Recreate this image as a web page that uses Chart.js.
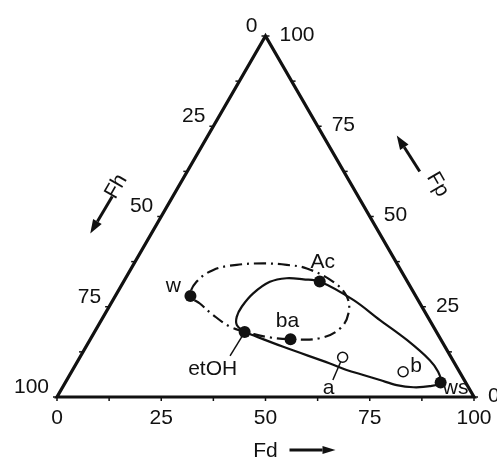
<!DOCTYPE html>
<html><head><meta charset="utf-8">
<script src="https://cdn.jsdelivr.net/npm/chart.js@4/dist/chart.umd.min.js"></script>
<style>html,body{margin:0;padding:0;background:#fff}canvas{display:block}</style>
</head><body>
<canvas id="c" width="497" height="461"></canvas>
<script>
// ---- data (ternary: Fd, Fp; Fh = 100 - Fd - Fp) ----
const tickValues = [0, 25, 50, 75, 100];
const minorTicks = [12.5, 37.5, 62.5, 87.5];
const solventNames = ["w", "Ac", "ba", "etOH", "ws"];
const solventFd = [18, 47, 48, 36, 90];
const solventFp = [28, 32, 16, 18, 4];
const sampleNames = ["a", "b"];
const sampleFd = [63, 79.5];
const sampleFp = [11, 7];
const solidFd = [36, 33.2, 32.0, 31.8, 32.7, 35.1, 38.6, 42.8, 47, 57.6, 66.8, 76.0, 84.3, 87.9, 90, 87.9, 84.1, 79.8, 75.1, 70.4, 65.7, 60.8, 47.3, 36];
const solidFp = [18, 19.9, 22.2, 25.0, 28.7, 31.9, 32.9, 32.6, 32, 26.9, 21.3, 15.8, 10.2, 7.0, 4, 3.0, 2.7, 3.3, 4.7, 6.1, 7.5, 9.3, 13.9, 18];
const dashFd = [36, 31.7, 26.1, 21.3, 18, 17.5, 19.9, 24.8, 31.0, 36.8, 42.1, 50.3, 55.6, 58.3, 58.4, 54.9, 48, 42.8, 36];
const dashFp = [18, 19.5, 22.7, 25.9, 28, 31.9, 35.2, 36.6, 37.0, 36.6, 35.6, 31.9, 27.8, 23.2, 19.0, 16.3, 16, 16.5, 18];
const leaderEtohFd = [36, 35.8];
const leaderEtohFp = [18, 11.4];
const leaderAFd = [63, 63.8];
const leaderAFp = [11, 4.7];

const S3 = Math.sqrt(3) / 2;
function toXY(fd, fp) { return { x: fd + fp / 2, y: fp * S3 }; }
function series(fdArr, fpArr) { return fdArr.map((d, i) => toXY(d, fpArr[i])); }

// label offsets in px (style, not data)
const labelOffsets = {
  w: [-17, -10], Ac: [3, -19], ba: [-3, -18], etOH: [-32, 37], ws: [15, 6],
  a: [-14, 31], b: [13, -6]
};

const FONT = '21px "Liberation Sans", Arial, sans-serif';
const INK = '#111';

function arrow(ctx, x1, y1, x2, y2, len, hw) {
  const ang = Math.atan2(y2 - y1, x2 - x1);
  const bx = x2 - len * Math.cos(ang), by = y2 - len * Math.sin(ang);
  ctx.beginPath(); ctx.moveTo(x1, y1); ctx.lineTo(bx, by); ctx.stroke();
  ctx.beginPath();
  ctx.moveTo(x2, y2);
  ctx.lineTo(bx + hw * Math.sin(ang), by - hw * Math.cos(ang));
  ctx.lineTo(bx - hw * Math.sin(ang), by + hw * Math.cos(ang));
  ctx.closePath(); ctx.fill();
}

const ternaryPlugin = {
  id: 'ternary',
  beforeDatasetsDraw(chart) {
    const ctx = chart.ctx, xs = chart.scales.x, ys = chart.scales.y;
    const P = (fd, fp) => { const q = toXY(fd, fp); return { x: xs.getPixelForValue(q.x), y: ys.getPixelForValue(q.y) }; };
    ctx.save();
    ctx.strokeStyle = INK; ctx.fillStyle = INK;
    ctx.lineWidth = 3.2; ctx.lineJoin = 'miter';
    const A = P(0, 0), B = P(100, 0), C = P(0, 100);
    ctx.beginPath(); ctx.moveTo(A.x, A.y); ctx.lineTo(B.x, B.y); ctx.lineTo(C.x, C.y); ctx.closePath(); ctx.stroke();
    // ticks
    ctx.lineWidth = 1.5;
    const all = tickValues.concat(minorTicks);
    all.forEach(v => {
      let p = P(v, 0); ctx.beginPath(); ctx.moveTo(p.x, p.y); ctx.lineTo(p.x, p.y + 4); ctx.stroke();
      p = P(0, 100 - v); ctx.beginPath(); ctx.moveTo(p.x, p.y); ctx.lineTo(p.x - 4, p.y); ctx.stroke();
      p = P(100 - v, v); ctx.beginPath(); ctx.moveTo(p.x, p.y); ctx.lineTo(p.x + 4, p.y); ctx.stroke();
    });
    // tick labels
    ctx.font = FONT; ctx.textBaseline = 'middle';
    tickValues.forEach(v => {
      let p = P(v, 0);
      ctx.textAlign = 'center'; ctx.fillText(String(v), p.x, p.y + 21);
      p = P(0, 100 - v);
      ctx.textAlign = 'right'; ctx.fillText(String(v), p.x - 8, p.y - 10);
      p = P(100 - v, v);
      ctx.textAlign = 'left'; ctx.fillText(String(v), p.x + 14, p.y - 1);
    });
    // axis titles
    const mL = P(0, 50), mR = P(50, 50), mB = P(50, 0);
    ctx.save(); ctx.translate(mL.x - 45, mL.y - 30); ctx.rotate(-Math.PI / 3);
    ctx.textAlign = 'center'; ctx.fillText('Fh', 0, 0); ctx.restore();
    ctx.save(); ctx.translate(mR.x + 68, mR.y - 32); ctx.rotate(Math.PI / 3);
    ctx.textAlign = 'center'; ctx.fillText('Fp', 0, 0); ctx.restore();
    ctx.textAlign = 'center'; ctx.fillText('Fd', mB.x, mB.y + 54);
    ctx.lineWidth = 3;
    arrow(ctx, mL.x - 49, mL.y - 20, mL.x - 71, mL.y + 17, 14, 5);
    arrow(ctx, mR.x + 50, mR.y - 45, mR.x + 27, mR.y - 81, 14, 5);
    arrow(ctx, mB.x + 24, mB.y + 53, mB.x + 70, mB.y + 53, 13, 4);
    ctx.restore();
  },
  afterDatasetsDraw(chart) {
    const ctx = chart.ctx, xs = chart.scales.x, ys = chart.scales.y;
    ctx.save();
    ctx.fillStyle = INK; ctx.font = FONT; ctx.textAlign = 'center'; ctx.textBaseline = 'middle';
    const put = (names, fd, fp) => names.forEach((n, i) => {
      const q = toXY(fd[i], fp[i]);
      const o = labelOffsets[n];
      ctx.fillText(n, xs.getPixelForValue(q.x) + o[0], ys.getPixelForValue(q.y) + o[1]);
    });
    put(solventNames, solventFd, solventFp);
    put(sampleNames, sampleFd, sampleFp);
    ctx.restore();
  }
};

new Chart(document.getElementById('c'), {
  type: 'scatter',
  data: {
    datasets: [
      { label: 'solvents', data: series(solventFd, solventFp), pointRadius: 6, pointBackgroundColor: INK, pointBorderColor: INK, pointBorderWidth: 0, showLine: false, order: 0 },
      { label: 'samples', data: series(sampleFd, sampleFp), pointRadius: 5, pointBackgroundColor: '#fff', pointBorderColor: INK, pointBorderWidth: 1.5, showLine: false, order: 0 },
      { label: 'solid', data: series(solidFd, solidFp), showLine: true, tension: 0.35, borderColor: INK, borderWidth: 2.2, pointRadius: 0, order: 2 },
      { label: 'dashdot', data: series(dashFd, dashFp), showLine: true, tension: 0.4, borderColor: INK, borderWidth: 2.2, borderDash: [12, 5, 2, 5], pointRadius: 0, order: 2 },
      { label: 'leader1', data: series(leaderEtohFd, leaderEtohFp), showLine: true, borderColor: INK, borderWidth: 1.5, pointRadius: 0, order: 3 },
      { label: 'leader2', data: series(leaderAFd, leaderAFp), showLine: true, borderColor: INK, borderWidth: 1.5, pointRadius: 0, order: 3 }
    ]
  },
  options: {
    responsive: false, animation: false, devicePixelRatio: 1,
    layout: { padding: { left: 57, right: 23, top: 36, bottom: 64 } },
    scales: {
      x: { type: 'linear', min: 0, max: 100, display: false },
      y: { type: 'linear', min: 0, max: 100 * S3, display: false }
    },
    plugins: { legend: { display: false }, tooltip: { enabled: false } },
    clip: false
  },
  plugins: [ternaryPlugin]
});
</script>
</body></html>
